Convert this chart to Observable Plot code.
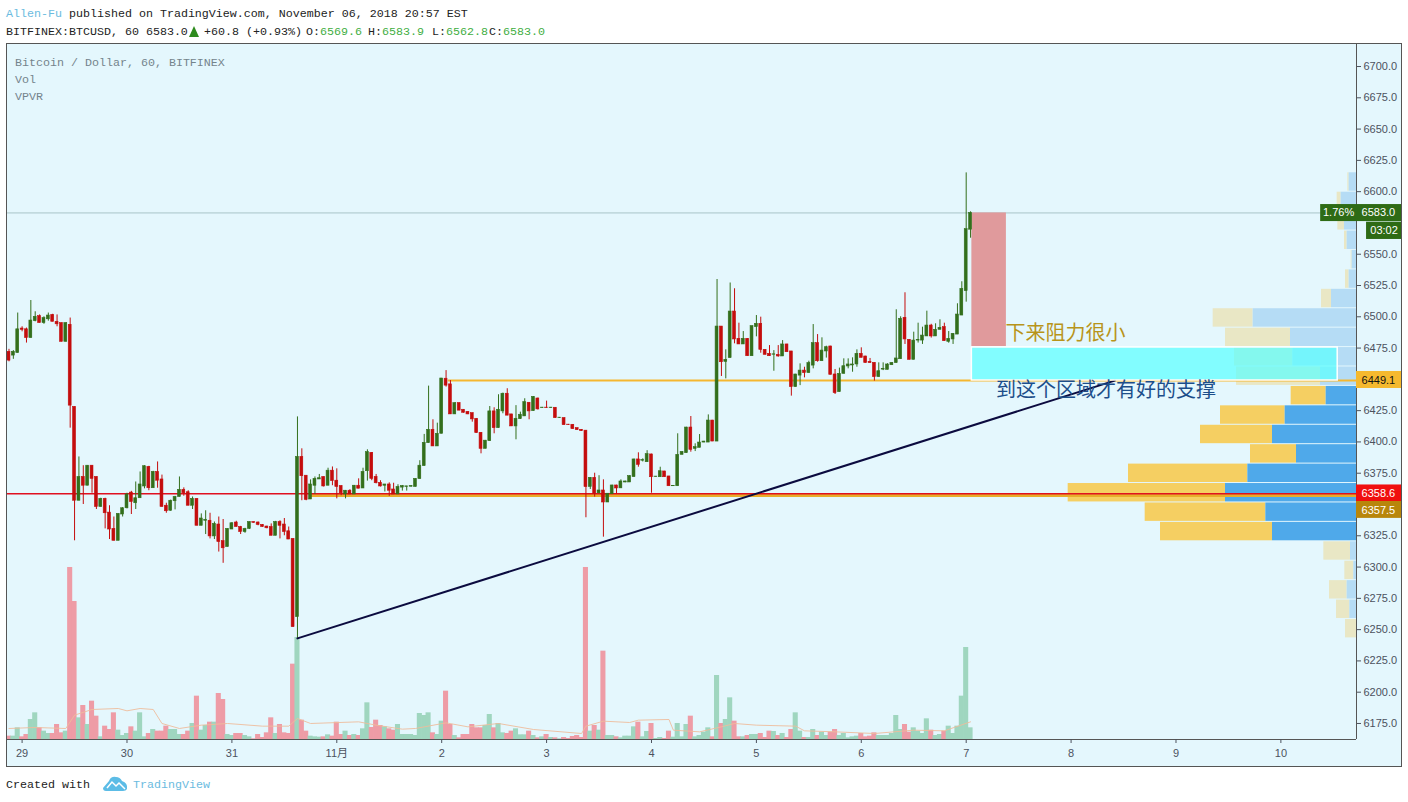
<!DOCTYPE html>
<html><head><meta charset="utf-8">
<script src="https://cdn.jsdelivr.net/npm/d3@7"></script>
<script src="https://cdn.jsdelivr.net/npm/@observablehq/plot@0.6"></script>
<style>
html,body{margin:0;padding:0;background:#fff;width:1408px;height:802px;overflow:hidden}
.mono{position:absolute;font:11.67px "Liberation Mono",monospace;white-space:pre;line-height:14px;color:#222}
.up{color:#3fae3f}.blue{color:#6bbbe0}
#chart{position:absolute;left:6px;top:43px;width:1394px;height:722px;border:1px solid #555;background:#e4f7fd}
#chart svg{display:block;position:absolute;left:0;top:0}
.leg{position:absolute;left:8px;font:11.67px "Liberation Mono",monospace;color:#74848c;line-height:14px}
</style></head><body>
<div class="mono" style="left:6px;top:7px"><span class="blue">Allen-Fu</span> published on TradingView.com, November 06, 2018 20:57 EST</div>
<div class="mono" style="left:6px;top:25px">BITFINEX:BTCUSD, 60 6583.0</div>
<div style="position:absolute;left:189px;top:26px;width:0;height:0;border-left:5.5px solid transparent;border-right:5.5px solid transparent;border-bottom:11px solid #2e8b1e"></div>
<div class="mono" style="left:204px;top:25px">+60.8 (+0.93%)</div>
<div class="mono" style="left:306px;top:25px">O:<span class="up">6569.6</span></div>
<div class="mono" style="left:368px;top:25px">H:<span class="up">6583.9</span></div>
<div class="mono" style="left:432px;top:25px">L:<span class="up">6562.8</span></div>
<div class="mono" style="left:489px;top:25px">C:<span class="up">6583.0</span></div>
<div id="chart">
<div class="leg" style="top:12px">Bitcoin / Dollar, 60, BITFINEX</div>
<div class="leg" style="top:29px">Vol</div>
<div class="leg" style="top:46px">VPVR</div>
</div>
<div class="mono" style="left:6px;top:778px">Created with</div>
<svg style="position:absolute;left:103px;top:776px" width="25" height="15" viewBox="0 0 25 15"><path d="M0 12 L6 5 Q8 0 13 1 Q17 1 19 5 Q25 7 24 13 Q23 15 20 15 L3 15 Q0 15 0 12Z" fill="#5cbce6"/><path d="M4 12 L9 6 L13 10 L16 7 L22 13" fill="none" stroke="#fff" stroke-width="1.5"/></svg>
<div class="mono blue" style="left:133px;top:778px">TradingView</div>
<script>
const firstHour = -3;
const opens = [
6472,6469,6471,6490.6,6490,6483,6496.5,6500.5,6495,6498,
6501.5,6496,6495,6480,6493.6,6428,6353,6372,6365,6381,
6372,6348,6354.5,6343.5,6330.5,6321,6342,6347,6359.5,6351,
6355,6364.4,6380,6363,6376,6370,6349,6345,6352.6,6356,
6361.7,6359.8,6349,6354.5,6333,6337,6337,6324.5,6334,6320.7,
6316,6330,6335.6,6332,6328,6330.5,6336,6335.6,6333.7,6332.4,
6332,6325,6336,6334,6328.6,6322.5,6260,6388,6373,6354,
6365,6370,6372,6365,6377,6369,6364.7,6358,6361,6358,
6365,6362.8,6376.6,6391.3,6372,6367.3,6365,6366,6362,6358,
6363.5,6364,6364.2,6364,6370.3,6380.7,6399,6409.7,6396.4,6406.5,
6450.5,6446,6422,6431,6425.7,6424,6423,6418.5,6407.3,6394.5,
6400.6,6424.4,6411,6424.4,6438.5,6422,6412.4,6418.2,6420.4,6431.3,
6424.6,6434.7,6427,6427.4,6427,6427.3,6419,6419,6413.8,6413.7,
6411,6409.7,6409,6364,6371.3,6359,6361.2,6351.6,6358.2,6365.2,
6362.9,6367.6,6367.6,6371.9,6386,6385,6383.8,6390,6372,6371.8,
6376.4,6372.4,6364.6,6364.6,6389.7,6391,6411.5,6394.5,6395.3,6399.5,
6399.5,6417.1,6400.3,6492.2,6464,6467,6504.2,6482.4,6477.9,6482.4,
6468.5,6491.7,6494.4,6473.6,6470.4,6469.7,6469.6,6468.3,6477.9,6472.3,
6443.8,6453,6457,6455,6461,6478.9,6464.5,6472.3,6476.3,6453.9,
6439.8,6454.4,6460.3,6461.1,6461.9,6470.4,6468.3,6464,6463.2,6451.8,
6457.8,6457.6,6461.3,6463,6466.1,6499.2,6481.6,6465.6,6481,6481,
6484.3,6493,6484.3,6489.6,6491.7,6480,6481.9,6485.8,6501,6520.5,
6569.6];
const highs = [
6474,6473,6503,6492,6491,6513,6504,6501.5,6500,6503,
6502,6501.5,6495,6495,6499,6428,6388,6381,6381,6381,
6372,6355,6355,6349,6340,6342.5,6347.5,6359,6360.5,6368,
6376,6381,6380.5,6376.5,6384,6373.5,6351,6353.5,6356.5,6372,
6363.3,6361,6356,6354.5,6342.5,6345,6343,6336,6340,6338,
6330.5,6335.5,6336.6,6332.5,6331,6336,6336,6336,6334,6332.6,
6334.5,6336.5,6337,6338.8,6332,6322.5,6420,6394.5,6373,6369.7,
6372,6374,6372,6379,6380,6378.5,6365,6361.2,6361.8,6365.2,
6370.5,6379,6393.7,6391.5,6374,6369,6366,6367.3,6367,6365.8,
6365.2,6364.5,6365,6370.6,6385,6406,6444.6,6417.7,6415,6450.7,
6457,6449,6431.2,6431.2,6425.8,6424.2,6423,6418.5,6407.4,6401.2,
6428.3,6427.3,6437.7,6439,6442.5,6422,6429,6423.8,6434.5,6431.3,
6436.2,6435,6427.6,6432.6,6427.6,6427.4,6419.5,6419.2,6414,6413.8,
6411,6409.8,6409,6371.5,6375,6373,6369.7,6358.7,6365.4,6365.4,
6369.7,6368.6,6373,6386.2,6391.3,6386.5,6393,6390.2,6372.4,6379.8,
6376.5,6372.5,6365,6406.5,6392.2,6411.7,6420.3,6398.5,6405.9,6400.4,
6421.6,6417.2,6529.8,6492.2,6473.6,6527,6522.4,6494.9,6488.2,6482.5,
6492.6,6501,6499.7,6473.7,6477,6473,6477,6481,6478,6472.3,
6454,6462.4,6459.7,6464.5,6493.8,6485.8,6483.2,6476.5,6476.4,6457.9,
6459,6466.4,6466.4,6467.2,6473.6,6475.2,6468.4,6466.7,6463.2,6463.2,
6463.2,6462.5,6463.3,6505.6,6500,6519.2,6481.7,6487.7,6494.9,6491.7,
6504.5,6494,6494.4,6497.6,6494.9,6488.2,6486.6,6510.4,6528,6615,
6583.9];
const lows = [
6464,6466,6471,6488,6479,6483,6496,6495,6494,6496.5,
6496,6492,6480,6480,6411,6321,6353,6350,6365,6359,
6346,6348,6330.5,6322,6321,6321,6340,6346.5,6342,6346,
6355,6362.5,6361,6363,6363,6348,6343,6344.6,6345.7,6356,
6356.6,6349,6346,6333,6333,6326,6322.5,6322,6312,6303,
6316,6330,6332,6326,6327,6330,6335,6333,6331.8,6330.6,
6325,6325,6322.5,6325,6322,6252,6243,6353,6353,6354,
6358,6370,6364,6365,6365,6354.5,6357,6354.5,6358,6358,
6362.6,6362.8,6368.7,6369,6366.5,6364,6360,6356.5,6358,6358,
6360.7,6360.7,6364,6364,6370.3,6380.7,6399,6396.4,6396.4,6406.5,
6443.8,6422,6422,6425,6423,6421.8,6415.8,6407,6390.5,6394.5,
6400.6,6406.5,6411,6422.5,6421,6412.4,6401.7,6418,6420.4,6417.7,
6424.6,6425.5,6426.8,6426.8,6426.8,6419,6418.8,6413.4,6413.2,6410.2,
6409.4,6408.6,6339.4,6362,6355.9,6358.5,6323.9,6351.6,6358.2,6358.6,
6362.9,6367.4,6367.6,6371.9,6379.8,6384,6383.8,6359,6371.8,6371.8,
6371.8,6364.6,6364.4,6364.6,6389.7,6391,6391.8,6392.3,6395.3,6399.4,
6399.5,6400.3,6400.3,6452.3,6450.4,6467,6478.4,6477.9,6477.9,6468.5,
6468.5,6484,6470.9,6469.6,6468.3,6456.5,6467.7,6468.3,6471.7,6436.6,
6443.8,6445,6451.2,6455,6458.4,6463.7,6464.5,6467,6453.6,6437.9,
6439.8,6454.4,6458.4,6455.7,6459.7,6467.2,6463,6463,6448.6,6451.8,
6457,6457.6,6461.3,6463,6466.1,6477.9,6465.6,6465.6,6479,6477.9,
6484.3,6483,6484.3,6489.6,6480.5,6478.9,6477.9,6485.8,6501,6511.7,
6562.8];
const closes = [
6465,6472,6490,6489.6,6483,6497,6500,6495,6499,6501,
6496,6494,6480,6495,6429,6353,6372,6365,6381,6370.5,
6348,6354.5,6343,6330,6321,6342.5,6347,6358,6352,6355,
6366,6380.6,6363,6376,6369,6348,6344.6,6353,6356,6361.7,
6359,6349,6354.5,6333,6338.8,6337.8,6324.5,6334.5,6320,6315,
6330.5,6335,6332,6328,6330.5,6336,6335.3,6333.7,6332,6331,
6325,6336,6333,6328,6322,6252,6388,6372.6,6353.7,6366,
6370.5,6371,6364.4,6377,6368.7,6364,6359,6361,6358,6365,
6362.6,6376,6391.8,6370.5,6367,6364.4,6366,6361,6358,6364,
6364.7,6364.5,6364.7,6370.5,6381,6399.3,6409.7,6396.4,6406.5,6450.7,
6445,6422,6431,6425,6423.3,6422,6418,6407,6394.5,6401,
6424.4,6411,6425.7,6438.5,6421,6412.4,6418.5,6421.7,6431.8,6424.4,
6436,6426,6427.4,6427,6427.4,6419,6419.4,6413.4,6413.4,6410.2,
6409.4,6408.6,6363.9,6371.3,6358.5,6361.2,6351.6,6358.6,6365.2,6362.8,
6368.4,6368.4,6372.7,6386,6381.7,6385.5,6390.2,6371.8,6372.3,6376.6,
6371.8,6364.6,6364.8,6389.7,6392,6411.5,6393.7,6395.8,6399.5,6400.3,
6417.1,6400.3,6492.2,6463.7,6465.6,6504.2,6481.9,6477.9,6482.4,6468.5,
6492.5,6494.4,6473.6,6469.6,6468.5,6470,6468.3,6477.9,6471.7,6443.8,
6453.9,6457,6455,6463,6478.9,6464.5,6473,6475.7,6453.6,6439,
6454.4,6460.5,6461.9,6461.9,6470.4,6467.2,6463,6463,6451.8,6456.5,
6458.4,6461.9,6463.2,6466.7,6498.4,6481.9,6465.6,6481,6481.6,6485,
6493,6484.3,6489.6,6491.2,6480.5,6482.4,6486.4,6501.8,6522.3,6570,
6583];
const volumes = [
10,10,35,8,15,60,80,35,25,18,
18,45,20,25,516,414,65,102,45,115,
70,8,40,30,80,28,12,18,38,25,
80,8,18,30,25,25,40,30,30,15,
15,25,48,130,28,42,52,52,138,120,
15,12,18,18,12,8,2,15,6,20,
65,18,45,20,18,226,306,58,25,10,
8,7,8,14,10,52,15,25,12,15,
12,32,110,36,58,42,38,32,28,45,
15,15,15,12,78,72,80,20,15,55,
145,45,12,5,15,15,45,35,35,42,
75,35,48,20,18,25,32,14,14,25,
12,5,8,15,6,5,2,6,3,9,
12,6,516,25,42,28,265,12,12,8,
5,10,10,38,52,8,24,48,3,6,
3,25,7,48,8,45,70,8,12,22,
35,8,192,48,60,125,55,8,8,12,
15,15,18,6,25,24,12,18,6,30,
80,25,6,6,30,12,22,12,22,30,
12,18,5,8,10,18,8,10,20,12,
12,12,18,72,30,45,22,35,25,18,
62,28,12,15,25,40,18,40,130,276,
35];
const volMaHours = [-3,3,10,12,16,22,24,27,30,32,36,41,47,55,61,63,66,77,81,87,90,97,102,109,117,128,129,133,139,141,148,149,155,160,163,168,177,179,186,195,204,211,217];
const volMaValues = [33,36,33,73,90,93,86,93,90,48,33,43,48,40,40,63,48,53,43,31,33,50,38,48,30,18,40,55,51,58,60,28,23,38,48,43,40,26,23,18,28,26,53];

// volume profile, bottom row first
const vpLow = 6243, vpStep = 15.52;
const vpTotal = [33,60,81,35,98,588,634,865,684,318,468,408,196,360,366,393,430,105,33,16,36,56,58,26];
const vpUp    = [0,20,28,8,18,252,272,393,326,180,252,214,91,108,191,198,310,75,22,13,28,36,46,22];
const vpValueArea = [5,12];

const priceTicks = [6175,6200,6225,6250,6275,6300,6325,6375,6400,6425,6475,6500,6525,6550,6600,6625,6650,6675,6700];
const dayHours = [0,24,48,72,96,120,144,168,192,216,240,264,288];
const dayLabels = ["29","30","31","11月","2","3","4","5","6","7","8","9","10"];

const lastPrice = 6583, redLevel = 6358.6, goldLevel = 6357.5, yellowLevel = 6449.1;
const trendHours = [63,250], trendPrices = [6243,6449];
const xDomain = [-3.34,305.3], yDomain = [6162.2,6717.6];
const xEnd = xDomain[1], xFar = 315.6, yBase = yDomain[0];

const tags = [
 {x1:297.1,x2:xEnd,top:6589.7,bot:6576.1,fill:"#2e6b15",text:"1.76%",ink:"#fff",tx:301.2,ty:6583},
 {x1:xEnd,x2:xFar,top:6589.7,bot:6576.1,fill:"#2e6b15",text:"6583.0",ink:"#fff",tx:310.3,ty:6583},
 {x1:307.6,x2:xFar,top:6575.6,bot:6561.8,fill:"#2e6b15",text:"03:02",ink:"#fff",tx:311.6,ty:6568.8},
 {x1:xEnd,x2:xFar,top:6456.3,bot:6442.7,fill:"#f5b92e",text:"6449.1",ink:"#111",tx:310.3,ty:6449.5},
 {x1:xEnd,x2:xFar,top:6365.6,bot:6352.4,fill:"#f00f0f",text:"6358.6",ink:"#fff",tx:310.3,ty:6359},
 {x1:xEnd,x2:xFar,top:6352.4,bot:6338.9,fill:"#b8860b",text:"6357.5",ink:"#fff",tx:310.3,ty:6345.6}
];
const notes = [
 {x:225,y:6486.6,text:"下来阻力很小",fill:"#b8941a"},
 {x:222.8,y:6441.1,text:"到这个区域才有好的支撑",fill:"#1c4e8a"}
];

for (const a of [highs,lows,closes,volumes]) if (a.length !== opens.length) throw new Error("length "+a.length+" vs "+opens.length);

const candles = opens.map((o,i)=>({h:firstHour+i,o,hi:highs[i],lo:lows[i],c:closes[i],v:volumes[i]}));
const GREEN="#336f1c", RED="#c40d0d";
const colorOf = d => d.c>=d.o?GREEN:RED;
const volY = v => yBase + v*0.2664;
const vpX = v => xEnd - v*0.07626;
const vpRows = vpTotal.map((t,i)=>({
  low:vpLow+i*vpStep, high:vpLow+(i+1)*vpStep, total:t, up:vpUp[i],
  strong: i>=vpValueArea[0] && i<=vpValueArea[1]
}));
const volMa = volMaHours.map((h,i)=>({h,v:volMaValues[i]}));

const chart = Plot.plot({
  width:1394, height:722,
  marginLeft:0, marginRight:45, marginTop:0, marginBottom:27,
  style:{background:"transparent",fontFamily:'"Liberation Sans","Noto Sans CJK SC",sans-serif',fontSize:"11px",color:"#4c525e"},
  x:{domain:xDomain},
  y:{domain:yDomain},
  marks:[
    // volume
    Plot.rect(candles,{x1:d=>d.h-0.58,x2:d=>d.h+0.58,y1:yBase,y2:d=>volY(d.v),fill:d=>d.c>=d.o?"#9fd6bf":"#ee9ca6"}),
    Plot.line(volMa,{x:"h",y:d=>volY(d.v),stroke:"#eebc9c",strokeWidth:0.9}),
    // volume profile
    Plot.rect(vpRows,{x1:d=>vpX(d.up),x2:d=>vpX(d.total),y1:"low",y2:"high",insetTop:0.5,insetBottom:0.5,fill:d=>d.strong?"#f5cf62":"#e9e7c5"}),
    Plot.rect(vpRows,{x1:xEnd,x2:d=>vpX(d.up),y1:"low",y2:"high",insetTop:0.5,insetBottom:0.5,fill:d=>d.strong?"#4fa9ea":"#b5dcf5"}),
    // price levels
    Plot.ruleY([lastPrice],{stroke:"#a9c4c8",strokeWidth:1}),
    Plot.rect([{x1:217.3,x2:225.2,y1:6476.2,y2:lastPrice}],{x1:"x1",x2:"x2",y1:"y1",y2:"y2",fill:"#e09a9c"}),
    Plot.ruleY([goldLevel],{x1:65.8,x2:xEnd,stroke:"#e8ad2a",strokeWidth:3.6}),
    Plot.ruleY([yellowLevel],{x1:97.5,x2:xEnd,stroke:"#f5b730",strokeWidth:2}),
    Plot.ruleY([redLevel],{stroke:"#e01020",strokeWidth:1.6}),
    // candles
    Plot.ruleX(candles,{x:"h",y1:"lo",y2:"hi",stroke:colorOf,strokeWidth:1}),
    Plot.rect(candles,{x1:d=>d.h-0.33,x2:d=>d.h+0.33,y1:"o",y2:"c",fill:colorOf,stroke:colorOf,strokeWidth:0.6}),
    // trend line
    Plot.line(trendHours.map((h,i)=>({h,p:trendPrices[i]})),{x:"h",y:"p",stroke:"#0b0b3f",strokeWidth:2}),
    // highlighted zone
    Plot.rect([{x1:217.3,x2:301,y1:yellowLevel,y2:6475.5}],{x1:"x1",x2:"x2",y1:"y1",y2:"y2",fill:"#58ffff",fillOpacity:0.7,stroke:"#fff",strokeWidth:1.5}),
    Plot.text(notes,{x:"x",y:"y",text:"text",fill:"fill",textAnchor:"start",fontSize:20,fontFamily:'"Noto Sans CJK SC",sans-serif'}),
    // frame lines and axes
    Plot.ruleX([xEnd],{stroke:"#555"}),
    Plot.ruleY([yBase],{stroke:"#555"}),
    Plot.axisY({anchor:"right",ticks:priceTicks,tickFormat:d=>d.toFixed(1),tickSize:4,tickPadding:3,label:null,fill:"#4c525e",stroke:"#4c525e"}),
    Plot.axisX({ticks:dayHours,tickFormat:d=>dayLabels[dayHours.indexOf(d)],tickSize:4,tickPadding:6,label:null,fill:"#4c525e",stroke:"#4c525e"}),
    // price tags
    Plot.rect(tags,{x1:"x1",x2:"x2",y1:"bot",y2:"top",fill:"fill"}),
    Plot.text(tags,{x:"tx",y:"ty",text:"text",fill:"ink",fontSize:11})
  ]
});
document.getElementById("chart").appendChild(chart);
</script>
</body></html>
